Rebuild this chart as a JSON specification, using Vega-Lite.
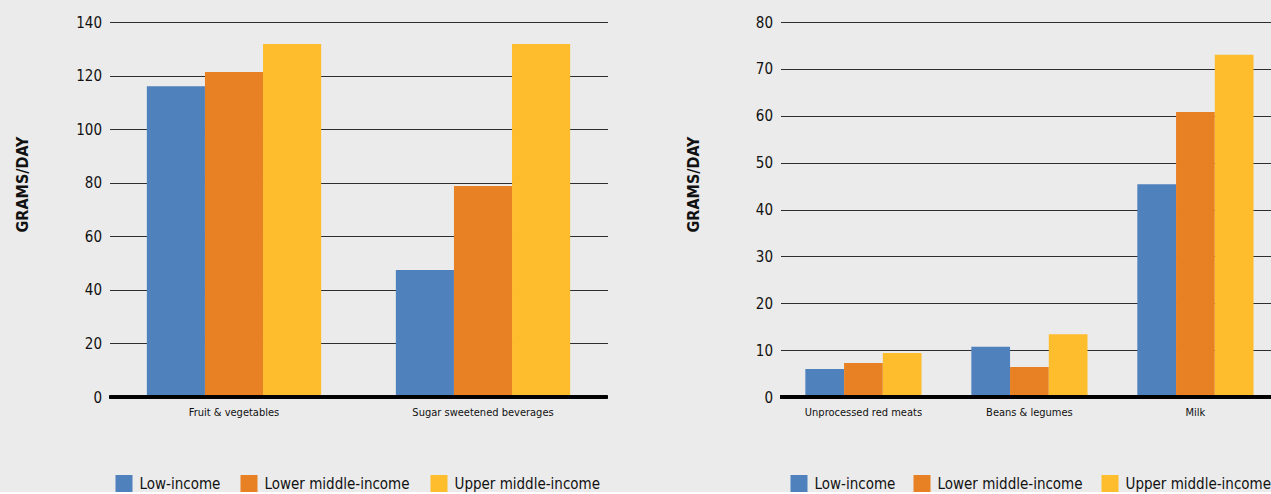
{
  "$schema": "https://vega.github.io/schema/vega-lite/v6.json",
  "background": "#ebebeb",
  "padding": {"left": 13.5, "top": 15, "right": 0, "bottom": 0},
  "spacing": 173,
  "bounds": "flush",
  "config": {
    "view": {"stroke": null},
    "font": "DejaVu Sans Condensed, DejaVu Sans, sans-serif",
    "axisY": {
      "domain": false,
      "ticks": false,
      "grid": true,
      "gridColor": "#2e2e2e",
      "gridWidth": 1,
      "labelPadding": 8,
      "labelFontSize": 15,
      "labelColor": "#111111",
      "titleFontSize": 16,
      "titleFontWeight": "bold",
      "titleColor": "#111111",
      "titleX": -87.5,
      "titleY": 162,
      "titleBaseline": "middle",
      "titleAlign": "center"
    },
    "axisX": {
      "domain": false,
      "ticks": false,
      "grid": false,
      "labelAngle": 0,
      "labelFontSize": 11,
      "labelPadding": 9,
      "labelColor": "#111111"
    },
    "legend": {
      "orient": "none",
      "direction": "horizontal",
      "symbolType": "square",
      "symbolSize": 289,
      "symbolStrokeWidth": 0,
      "labelFontSize": 15,
      "labelLimit": 400,
      "labelOffset": 7,
      "labelColor": "#111111",
      "padding": 0
    }
  },
  "datasets": {
    "left": [
      {"food": "Fruit & vegetables", "income": "Low-income", "grams": 116},
      {"food": "Fruit & vegetables", "income": "Lower middle-income", "grams": 121.3},
      {"food": "Fruit & vegetables", "income": "Upper middle-income", "grams": 131.8},
      {"food": "Sugar sweetened beverages", "income": "Low-income", "grams": 47.4},
      {"food": "Sugar sweetened beverages", "income": "Lower middle-income", "grams": 78.8},
      {"food": "Sugar sweetened beverages", "income": "Upper middle-income", "grams": 131.8}
    ],
    "right": [
      {"food": "Unprocessed red meats", "income": "Low-income", "grams": 6.0},
      {"food": "Unprocessed red meats", "income": "Lower middle-income", "grams": 7.25},
      {"food": "Unprocessed red meats", "income": "Upper middle-income", "grams": 9.4},
      {"food": "Beans & legumes", "income": "Low-income", "grams": 10.7},
      {"food": "Beans & legumes", "income": "Lower middle-income", "grams": 6.4},
      {"food": "Beans & legumes", "income": "Upper middle-income", "grams": 13.4},
      {"food": "Milk", "income": "Low-income", "grams": 45.4},
      {"food": "Milk", "income": "Lower middle-income", "grams": 60.8},
      {"food": "Milk", "income": "Upper middle-income", "grams": 73}
    ]
  },
  "hconcat": [
    {
      "width": 498,
      "height": 375,
      "data": {"name": "left"},
      "layer": [
        {
          "mark": {"type": "bar"},
          "encoding": {
            "x": {"field": "food", "type": "nominal", "sort": null, "title": null,
                  "scale": {"paddingInner": 0.3, "paddingOuter": 0.15}},
            "xOffset": {"field": "income", "type": "nominal",
                        "sort": ["Low-income", "Lower middle-income", "Upper middle-income"],
                        "scale": {"paddingInner": 0, "paddingOuter": 0}},
            "y": {"field": "grams", "type": "quantitative",
                  "scale": {"domain": [0, 140], "nice": false},
                  "axis": {"values": [0, 20, 40, 60, 80, 100, 120, 140], "title": "GRAMS/DAY"}},
            "color": {"field": "income", "type": "nominal",
                      "scale": {"domain": ["Low-income", "Lower middle-income", "Upper middle-income"],
                                "range": ["#4f81bd", "#e88024", "#fdbd2c"]},
                      "legend": {"title": null, "legendX": 6, "legendY": 453, "columnPadding": 20}}
          }
        },
        {
          "mark": {"type": "rule", "color": "#000000", "strokeWidth": 3},
          "encoding": {"y": {"datum": 0}}
        }
      ]
    },
    {
      "width": 491,
      "height": 375,
      "data": {"name": "right"},
      "layer": [
        {
          "mark": {"type": "bar"},
          "encoding": {
            "x": {"field": "food", "type": "nominal", "sort": null, "title": null,
                  "scale": {"paddingInner": 0.3, "paddingOuter": 0.129, "align": 0.58}},
            "xOffset": {"field": "income", "type": "nominal",
                        "sort": ["Low-income", "Lower middle-income", "Upper middle-income"],
                        "scale": {"paddingInner": 0, "paddingOuter": 0}},
            "y": {"field": "grams", "type": "quantitative",
                  "scale": {"domain": [0, 80], "nice": false},
                  "axis": {"values": [0, 10, 20, 30, 40, 50, 60, 70, 80], "title": "GRAMS/DAY"}},
            "color": {"field": "income", "type": "nominal",
                      "scale": {"domain": ["Low-income", "Lower middle-income", "Upper middle-income"],
                                "range": ["#4f81bd", "#e88024", "#fdbd2c"]},
                      "legend": {"title": null, "legendX": 10, "legendY": 453, "columnPadding": 18}}
          }
        },
        {
          "mark": {"type": "rule", "color": "#000000", "strokeWidth": 3},
          "encoding": {"y": {"datum": 0}}
        }
      ]
    }
  ],
  "resolve": {
    "scale": {"color": "independent", "x": "independent", "xOffset": "independent", "y": "independent"},
    "legend": {"color": "independent"}
  }
}
